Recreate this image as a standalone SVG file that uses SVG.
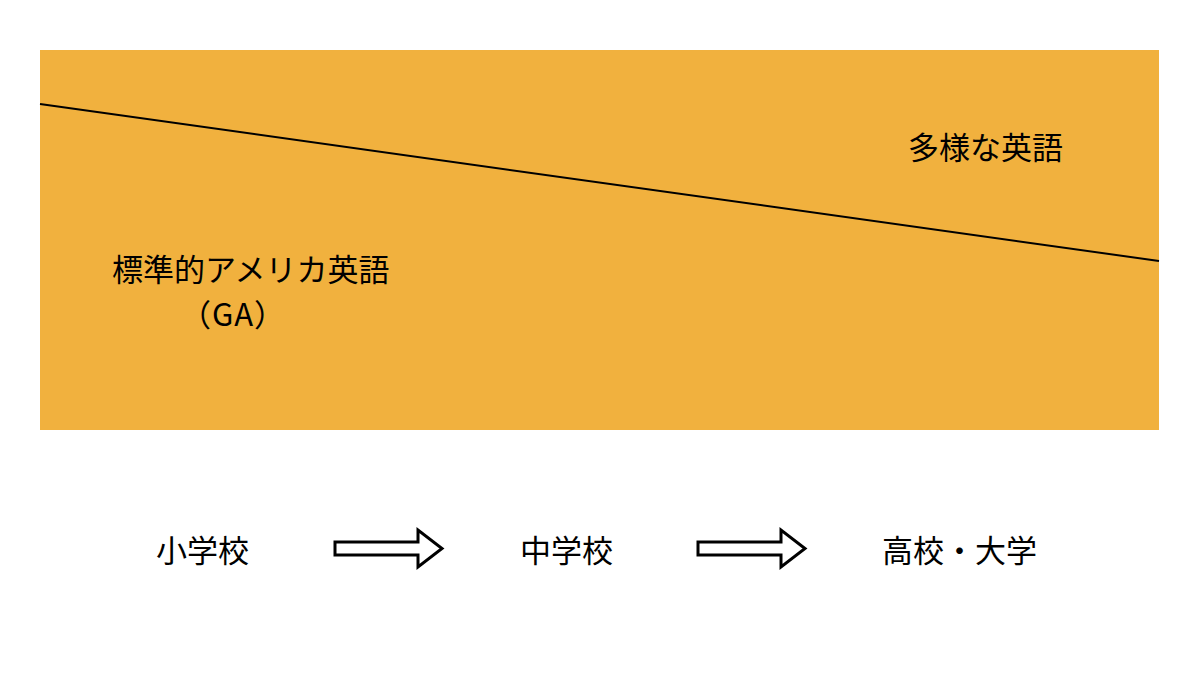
<svg xmlns="http://www.w3.org/2000/svg" width="1200" height="675" viewBox="0 0 1200 675">
<style>
.t{font-family:"Noto Sans CJK JP","Noto Sans",sans-serif;font-size:31px;fill:#000}
.arr{fill:#fff;stroke:#000;stroke-width:3;stroke-linejoin:miter}
</style>
<rect width="1200" height="675" fill="#fff"/>
<g id="band">
<rect x="40" y="50" width="1119" height="380" fill="#F1B13E"/>
</g>
<g id="connectors">
<line x1="40" y1="104" x2="1159" y2="261" stroke="#000" stroke-width="2"/>
<path class="arr" d="M335,542 H418 V530 L442,548.5 L418,567 V555 H335 Z"/>
<path class="arr" d="M698,542 H781 V530 L805,548.5 L781,567 V555 H698 Z"/>
</g>
<g id="standard">
<text class="t" x="112" y="281">標準的アメリカ英語</text>
<text class="t" x="180" y="326" letter-spacing="1">（GA）</text>
</g>
<g id="diverse"><text class="t" x="908" y="159">多様な英語</text></g>
<g id="elementary"><text class="t" x="156" y="562">小学校</text></g>
<g id="junior"><text class="t" x="520" y="562">中学校</text></g>
<g id="high"><text class="t" x="882" y="562">高校・大学</text></g>
</svg>
